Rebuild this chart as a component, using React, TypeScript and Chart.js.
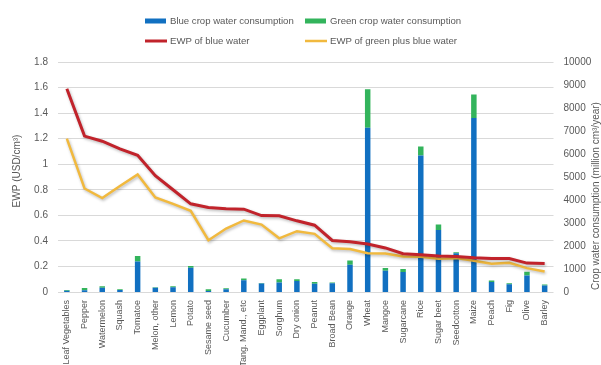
import { useEffect, useRef } from 'react';
import { Chart, registerables } from 'chart.js';

Chart.register(...registerables);

const FONT = '"Liberation Sans", Arial, sans-serif';
const TEXT = '#595959';

// Crops, ordered by economic water productivity of blue water
const crops = [
  'Leaf Vegetables', 'Pepper', 'Watermelon', 'Squash', 'Tomatoe', 'Melon, other', 'Lemon',
  'Potato', 'Sesame seed', 'Cucumber', 'Tang. Mand., etc', 'Eggplant', 'Sorghum', 'Dry onion',
  'Peanut', 'Broad Bean', 'Orange', 'Wheat', 'Mangoe', 'Sugarcane', 'Rice', 'Sugar beet',
  'Seedcotton', 'Maize', 'Peach', 'Fig', 'Olive', 'Barley',
];

// Crop water consumption (million cm³/year)
const blueConsumption = [
  50, 80, 180, 90, 1330, 180, 205, 1050, 40, 120, 510, 370, 415, 480,
  360, 380, 1180, 7140, 920, 870, 5940, 2700, 1680, 7570, 430, 340, 720, 280,
];
const greenConsumption = [
  40, 90, 75, 30, 230, 30, 45, 80, 80, 40, 80, 25, 140, 75,
  75, 30, 195, 1670, 120, 130, 390, 240, 50, 1020, 70, 40, 160, 50,
];

// EWP (USD/cm³)
const ewpBlue = [
  1.59, 1.22, 1.18, 1.12, 1.07, 0.91, 0.8, 0.69, 0.662, 0.651, 0.648, 0.598, 0.596, 0.557,
  0.523, 0.403, 0.393, 0.375, 0.345, 0.3, 0.291, 0.281, 0.278, 0.268, 0.262, 0.262, 0.226, 0.223,
];
const ewpGreenBlue = [
  1.2, 0.81, 0.735, 0.83, 0.92, 0.74, 0.69, 0.635, 0.405, 0.497, 0.56, 0.528, 0.42, 0.476,
  0.455, 0.343, 0.336, 0.304, 0.302, 0.278, 0.275, 0.26, 0.265, 0.244, 0.221, 0.228, 0.187, 0.16,
];

const ewpTicks = [0, 0.2, 0.4, 0.6, 0.8, 1, 1.2, 1.4, 1.6, 1.8];
const consumptionTicks = [0, 1000, 2000, 3000, 4000, 5000, 6000, 7000, 8000, 9000, 10000];

const ewpTitle = 'EWP (USD/cm³)';
const consumptionTitle = 'Crop water consumption (million cm³/year)';

// Soft drop shadow under the EWP lines
const lineShadow = {
  id: 'lineShadow',
  beforeDatasetDraw(chart: any, args: any) {
    if (args.meta.type !== 'line') return;
    const ctx = chart.ctx;
    ctx.save();
    ctx.shadowColor = 'rgba(0,0,0,0.28)';
    ctx.shadowBlur = 3;
    ctx.shadowOffsetX = 1;
    ctx.shadowOffsetY = 1.5;
  },
  afterDatasetDraw(chart: any, args: any) {
    if (args.meta.type !== 'line') return;
    chart.ctx.restore();
  },
};

// Two-column legend above the plot
const legendSlots = [
  { x: 145, y: 21 },
  { x: 305, y: 21 },
  { x: 145, y: 41 },
  { x: 305, y: 41 },
];

const gridLegend = {
  id: 'gridLegend',
  afterDraw(chart: any) {
    const ctx = chart.ctx;
    ctx.save();
    ctx.font = `9.6px ${FONT}`;
    ctx.textBaseline = 'middle';
    ctx.textAlign = 'left';
    chart.data.datasets.forEach((ds: any, i: number) => {
      const slot = legendSlots[i];
      if (!slot) return;
      if (ds.type === 'bar') {
        ctx.fillStyle = ds.backgroundColor;
        ctx.fillRect(slot.x, slot.y - 2.5, 21, 5);
      } else {
        ctx.strokeStyle = ds.borderColor;
        ctx.lineWidth = ds.borderWidth;
        ctx.beginPath();
        ctx.moveTo(slot.x, slot.y);
        ctx.lineTo(slot.x + 22, slot.y);
        ctx.stroke();
      }
      ctx.fillStyle = TEXT;
      ctx.fillText(ds.label, slot.x + 25, slot.y);
    });
    ctx.restore();
  },
};

// Axis titles, both reading bottom to top
const axisTitles = {
  id: 'axisTitles',
  afterDraw(chart: any) {
    const ctx = chart.ctx;
    const { top, bottom } = chart.chartArea;
    ctx.save();
    ctx.font = `10px ${FONT}`;
    ctx.fillStyle = TEXT;
    ctx.textAlign = 'center';
    ctx.textBaseline = 'middle';
    ctx.translate(17, (top + bottom) / 2 - 6);
    ctx.rotate(-Math.PI / 2);
    ctx.fillText(ewpTitle, 0, 0);
    ctx.restore();

    ctx.save();
    ctx.font = `10px ${FONT}`;
    ctx.fillStyle = TEXT;
    ctx.textAlign = 'center';
    ctx.textBaseline = 'middle';
    ctx.translate(596, (top + bottom) / 2 + 19);
    ctx.rotate(-Math.PI / 2);
    ctx.fillText(consumptionTitle, 0, 0);
    ctx.restore();
  },
};

export default function App() {
  const canvasRef = useRef<HTMLCanvasElement | null>(null);

  useEffect(() => {
    if (!canvasRef.current) return;
    const chart = new Chart(canvasRef.current, {
      type: 'bar',
      data: {
        labels: crops,
        datasets: [
          {
            type: 'bar',
            label: 'Blue crop water consumption',
            data: blueConsumption,
            backgroundColor: '#1170C1',
            yAxisID: 'y1',
            stack: 'water',
            categoryPercentage: 1,
            barPercentage: 0.31,
            order: 2,
          },
          {
            type: 'bar',
            label: 'Green crop water consumption',
            data: greenConsumption,
            backgroundColor: '#33B45C',
            yAxisID: 'y1',
            stack: 'water',
            categoryPercentage: 1,
            barPercentage: 0.31,
            order: 3,
          },
          {
            type: 'line',
            label: 'EWP of blue water',
            data: ewpBlue,
            borderColor: '#C1232B',
            borderWidth: 3,
            pointRadius: 0,
            tension: 0,
            yAxisID: 'y',
            order: 0,
          },
          {
            type: 'line',
            label: 'EWP of green plus blue water',
            data: ewpGreenBlue,
            borderColor: '#F1B93E',
            borderWidth: 2.5,
            pointRadius: 0,
            tension: 0,
            yAxisID: 'y',
            order: 1,
          },
        ] as any,
      },
      options: {
        responsive: false,
        animation: false,
        layout: { padding: { top: 62, left: 0, right: 0, bottom: 0 } },
        plugins: {
          legend: { display: false },
          tooltip: { enabled: false },
        },
        scales: {
          x: {
            stacked: true,
            grid: { display: false },
            border: { display: false },
            ticks: {
              autoSkip: false,
              minRotation: 90,
              maxRotation: 90,
              padding: 0,
              color: TEXT,
              font: { family: FONT, size: 9 },
            },
            afterFit: (scale: any) => {
              scale.height = 73;
            },
          },
          y: {
            position: 'left',
            min: 0,
            max: 1.8,
            grid: { color: '#D9D9D9', lineWidth: 1, drawTicks: false },
            border: { display: false },
            afterBuildTicks: (scale: any) => {
              scale.ticks = ewpTicks.map((v) => ({ value: v }));
            },
            ticks: {
              padding: 10,
              color: TEXT,
              font: { family: FONT, size: 10 },
              callback: (v: any) => String(v),
            },
            afterFit: (scale: any) => {
              scale.width = 58;
            },
          },
          y1: {
            position: 'right',
            stacked: true,
            min: 0,
            max: 10000,
            grid: { display: false, drawTicks: false },
            border: { display: false },
            afterBuildTicks: (scale: any) => {
              scale.ticks = consumptionTicks.map((v) => ({ value: v }));
            },
            ticks: {
              padding: 10,
              color: TEXT,
              font: { family: FONT, size: 10 },
              callback: (v: any) => String(v),
            },
            afterFit: (scale: any) => {
              scale.width = 47.5;
            },
          },
        },
      } as any,
      plugins: [lineShadow, gridLegend, axisTitles],
    });
    return () => chart.destroy();
  }, []);

  return (
    <div style={{ position: 'fixed', left: 0, top: 0, width: 601, height: 365, background: '#fff' }}>
      <canvas ref={canvasRef} width={601} height={365} />
    </div>
  );
}
